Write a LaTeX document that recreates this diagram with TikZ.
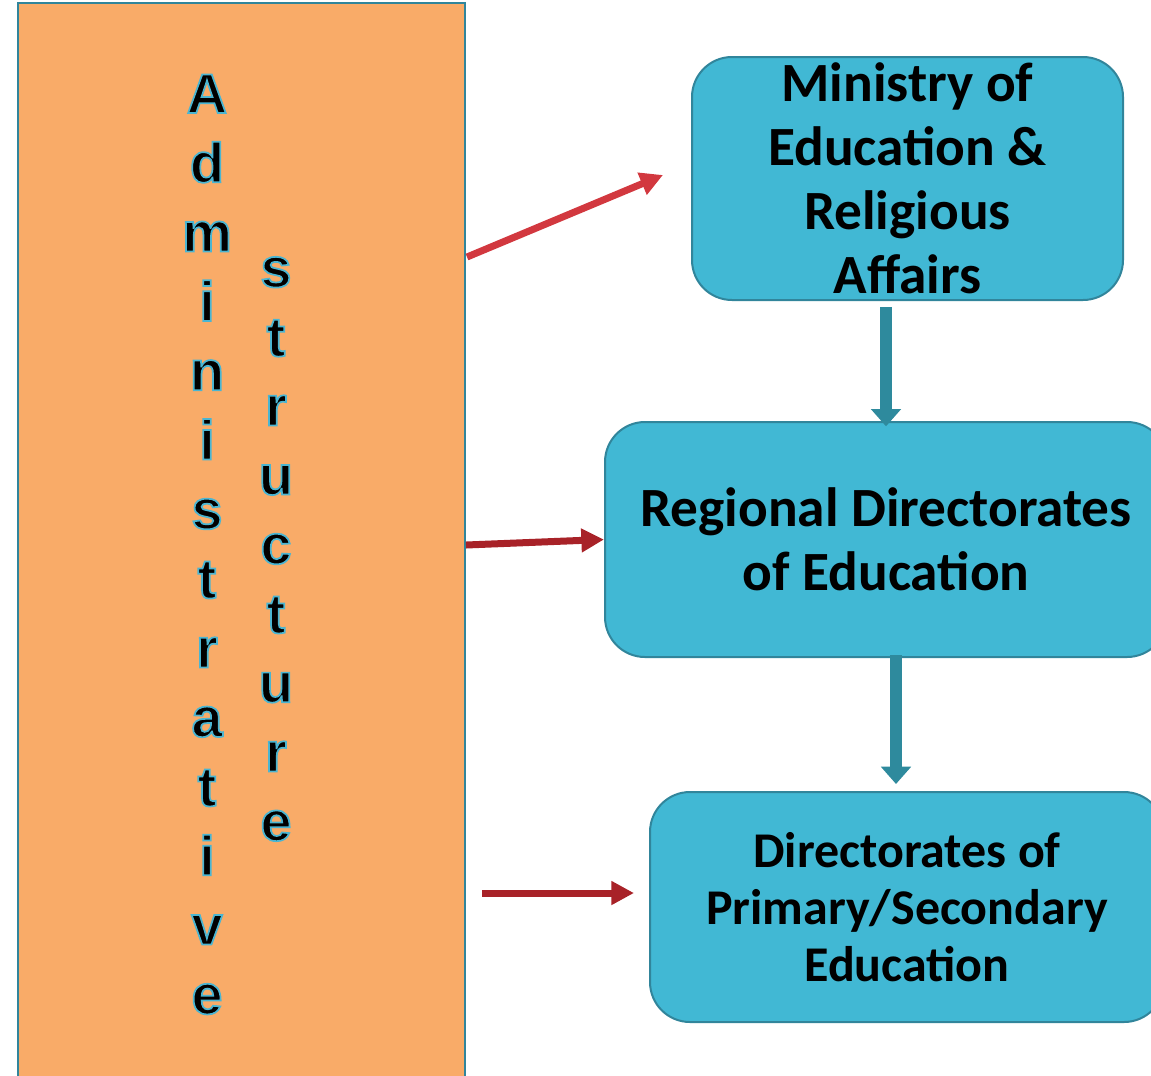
\documentclass[tikz,border=0pt]{standalone}
\usepackage{fontspec}
\setmainfont{Carlito}
\newfontfamily\letterfont{Liberation Sans}
\usetikzlibrary{arrows.meta}

\definecolor{boxorange}{RGB}{249,171,104}
\definecolor{boxcyan}{RGB}{65,184,212}
\definecolor{boxline}{RGB}{49,133,155}
\definecolor{downteal}{RGB}{46,138,157}
\definecolor{redone}{RGB}{210,56,63}
\definecolor{redtwo}{RGB}{168,34,40}

% outlined letter: fill black, stroke cyan
\newcommand{\outlined}[1]{\special{pdf:literal direct 2 Tr 1.3 w 0.29 0.71 0.82 RG}#1\special{pdf:literal direct 0 Tr}}

\tikzset{
  levelbox/.style={draw=boxline, line width=1.5pt, fill=boxcyan, rounded corners=30pt, align=center, font=\bfseries\fontsize{41.5}{48}\selectfont, inner sep=0pt},
  redarrow/.style={line width=5.25pt, -{Triangle[width=17pt,length=17pt]}},
  downarrow/.style={draw=downteal, line width=9pt, -{Triangle[width=22pt,length=13pt]}},
  letter/.style={anchor=base, inner sep=0pt, font=\letterfont\bfseries\fontsize{42}{42}\selectfont}
}

\begin{document}
\begin{tikzpicture}[x=0.75pt,y=0.75pt,yscale=-1,xscale=1]
\useasboundingbox (0,0) rectangle (1151,1075);

% left column
\node (admin) [draw=boxline, line width=1.5pt, fill=boxorange, minimum width=335.25pt, minimum height=810pt, inner sep=0pt] at (241.5,543) {};

\foreach \ch [count=\i] in {A,d,m,i,n,i,s,t,r,a,t,i,v,e}
  \node (adm-\i) [letter] at (207,113+69.3*\i-69.3) {\outlined{\ch}};
\foreach \ch [count=\i] in {s,t,r,u,c,t,u,r,e}
  \node (str-\i) [letter] at (276,287+69.2*\i-69.2) {\outlined{\ch}};

% right boxes
\node (ministry) [levelbox, minimum width=323.25pt, minimum height=182.25pt] at (907.5,178.5) {Ministry of\\Education \&\\Religious\\Affairs};
\node (regional) [levelbox, minimum width=421.5pt, minimum height=176.25pt] at (886,539.5) {Regional Directorates\\of Education};
\node (primary) [levelbox, minimum width=385.5pt, minimum height=172.5pt, font=\bfseries\fontsize{37.5}{43}\selectfont] at (907,907) {Directorates of\\Primary/Secondary\\Education};

% connectors
\coordinate (r1s) at (467,257);
\coordinate (r1e) at (663,175);
\coordinate (r3s) at (482,893);
\coordinate (r3e) at (634,893);
\coordinate (d2s) at (896,655);
\coordinate (d2e) at (896,784);

\draw [redarrow, draw=redone] (r1s) -- (r1e);
\draw [redarrow, draw=redtwo] (admin.east |- 0,545) -- (regional.west);
\draw [redarrow, draw=redtwo] (r3s) -- (r3e);

\draw [downarrow] (ministry.south -| regional.north) ++(0,6) -- ([yshift=4pt]regional.north);
\draw [downarrow] (d2s) -- (d2e);

\end{tikzpicture}
\end{document}
